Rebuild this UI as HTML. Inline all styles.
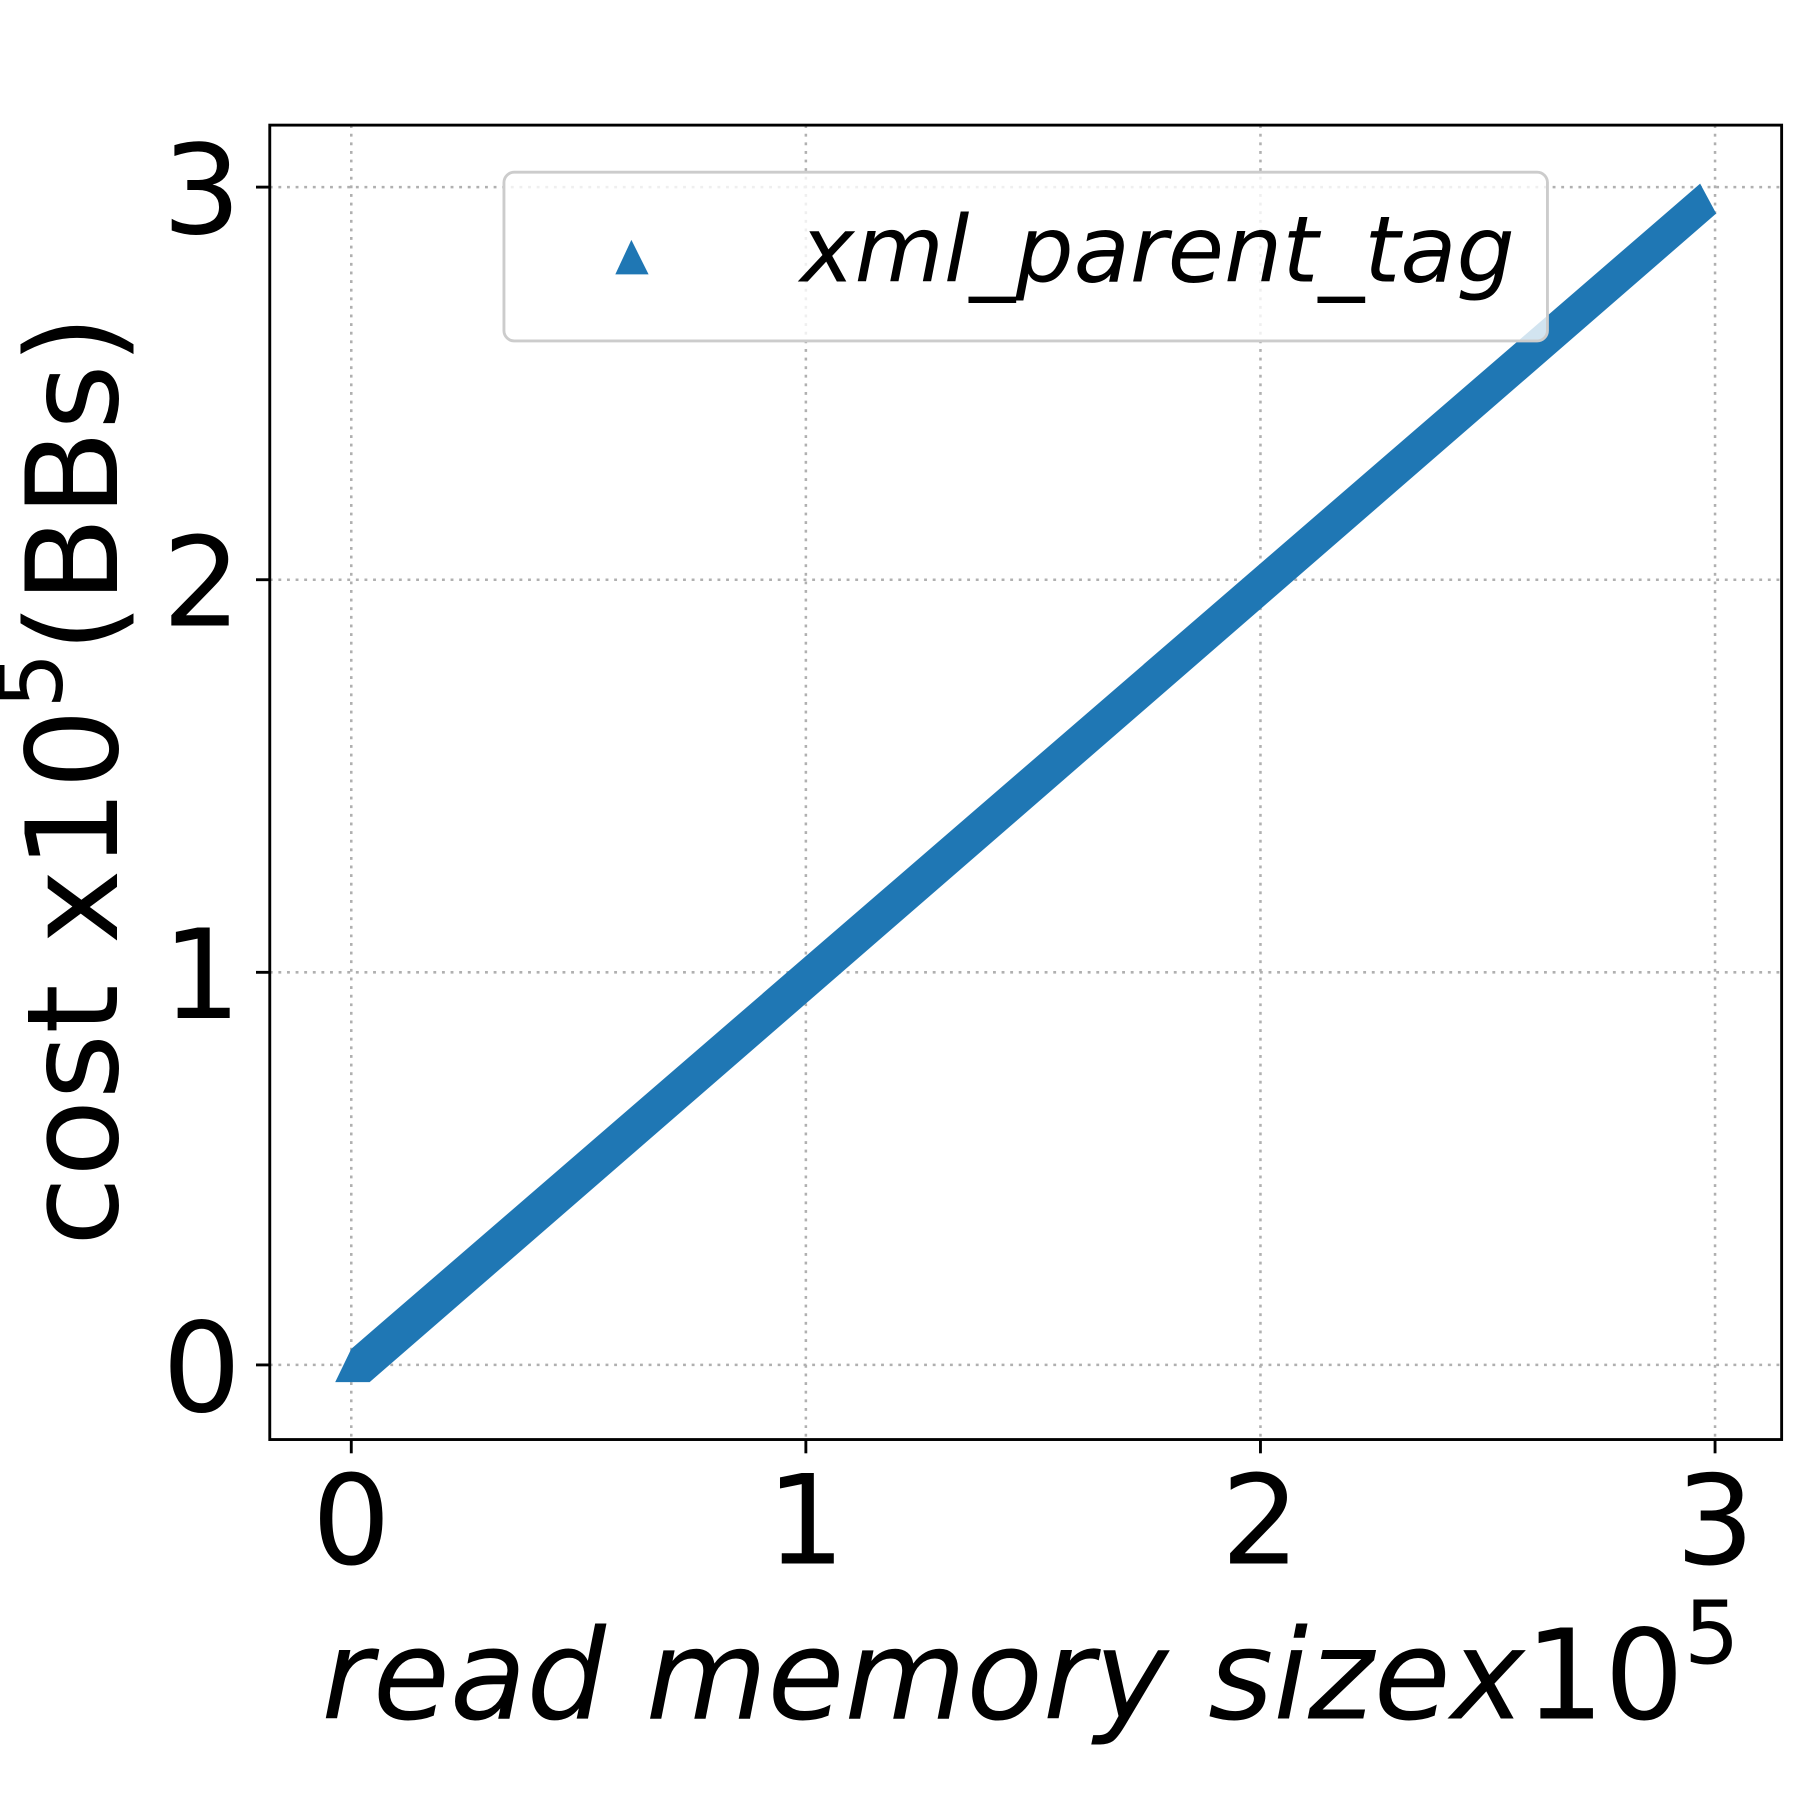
<!DOCTYPE html>
<html><head><meta charset="utf-8"><style>html,body{margin:0;padding:0;background:#fff}svg{display:block}</style></head>
<body>
<svg width="1800" height="1800" viewBox="0 0 1568 1568" xmlns="http://www.w3.org/2000/svg" font-family="DejaVu Sans, Liberation Sans, sans-serif">
<rect width="1568" height="1568" fill="#fff"/>
<g stroke="#b0b0b0" stroke-width="2.2" stroke-dasharray="2.5,5">
<line x1="306" y1="109" x2="306" y2="1254"/>
<line x1="702" y1="109" x2="702" y2="1254"/>
<line x1="1098" y1="109" x2="1098" y2="1254"/>
<line x1="1494" y1="109" x2="1494" y2="1254"/>
<line x1="235" y1="1189" x2="1552" y2="1189"/>
<line x1="235" y1="847" x2="1552" y2="847"/>
<line x1="235" y1="505" x2="1552" y2="505"/>
<line x1="235" y1="163" x2="1552" y2="163"/>
</g>
<polygon fill="#1f77b4" points="292,1204 306,1175 1481,160 1495,186 322,1204"/>
<rect x="439" y="150" width="909" height="147" rx="9" fill="#fff" fill-opacity="0.8" stroke="#cccccc" stroke-width="2.5"/>
<polygon fill="#1f77b4" points="550,209 565,239 536,239"/>
<text x="697" y="245" font-size="80" font-style="italic">xml_parent_tag</text>
<rect x="235" y="109" width="1317" height="1145" fill="none" stroke="#000" stroke-width="2.5"/>
<g stroke="#000" stroke-width="2.5">
<line x1="306" y1="1254" x2="306" y2="1266"/><line x1="702" y1="1254" x2="702" y2="1266"/>
<line x1="1098" y1="1254" x2="1098" y2="1266"/><line x1="1494" y1="1254" x2="1494" y2="1266"/>
<line x1="223" y1="1189" x2="235" y2="1189"/><line x1="223" y1="847" x2="235" y2="847"/>
<line x1="223" y1="505" x2="235" y2="505"/><line x1="223" y1="163" x2="235" y2="163"/>
</g>
<g font-size="108" text-anchor="middle">
<text x="306" y="1362">0</text><text x="702" y="1362">1</text><text x="1098" y="1362">2</text><text x="1494" y="1362">3</text>
</g>
<g font-size="108" text-anchor="end">
<text x="210" y="1229">0</text><text x="210" y="887">1</text><text x="210" y="545">2</text><text x="210" y="203">3</text>
</g>
<text x="280" y="1497" font-size="109" font-style="italic">read memory size<tspan>x</tspan><tspan font-style="normal">10</tspan><tspan font-style="normal" font-size="76" dy="-48">5</tspan></text>
<text transform="translate(102,680) rotate(-90)" text-anchor="middle" font-size="110">cost x10<tspan font-size="77" dy="-48">5</tspan><tspan dy="48">(BBs)</tspan></text>
</svg>
</body></html>
